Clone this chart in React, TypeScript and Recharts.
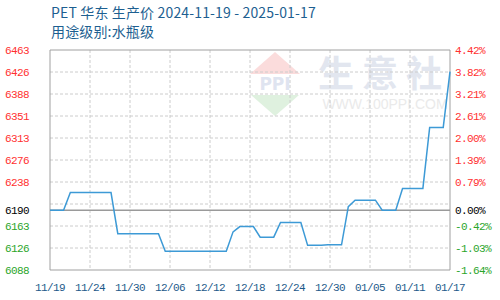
import { LineChart, Line, XAxis, YAxis, CartesianGrid, ReferenceLine, ReferenceArea } from "recharts";

// daily prices, 2024-11-19 .. 2025-01-17 (60 days)
const prices = [
  6190, 6190, 6190, 6220, 6220, 6220, 6220, 6220, 6220, 6220,
  6150, 6150, 6150, 6150, 6150, 6150, 6150, 6120, 6120, 6120,
  6120, 6120, 6120, 6120, 6120, 6120, 6120, 6153, 6162, 6162,
  6162, 6144, 6144, 6144, 6169, 6169, 6169, 6169, 6130, 6130,
  6130, 6131, 6131, 6131, 6196, 6207, 6207, 6207, 6207, 6190,
  6190, 6190, 6227, 6227, 6227, 6227, 6331, 6331, 6331, 6426,
];

const basePrice = 6190;
const xLabels = ["11/19", "11/24", "11/30", "12/06", "12/12", "12/18", "12/24", "12/30", "01/05", "01/11", "01/17"];
const yTicks = [6088, 6125.5, 6163, 6190, 6238, 6275.5, 6313, 6350.5, 6388, 6425.5, 6463];
const yLabels = ["6088", "6126", "6163", "6190", "6238", "6276", "6313", "6351", "6388", "6426", "6463"];
const pctLabels = ["-1.64%", "-1.03%", "-0.42%", "0.00%", "0.79%", "1.39%", "2.00%", "2.61%", "3.21%", "3.82%", "4.42%"];
const gridValues = [6125.5, 6163, 6200.5, 6238, 6275.5, 6313, 6350.5, 6388, 6425.5];

const data = prices.map((price, day) => ({ day, price }));
const lastDay = prices.length - 1;
const xTicks = xLabels.map((_, i) => (i * lastDay) / (xLabels.length - 1));

const tickFont = "'Liberation Mono', 'DejaVu Sans Mono', monospace";

const colorFor = (i: number) => {
  const v = yTicks[i];
  if (v === basePrice) return "#000000";
  return v > basePrice ? "#ff3030" : "#2aa52a";
};

// price on the left, change vs. base on the right
const PriceTick = (props: any) => {
  const { y, index } = props;
  return (
    <g>
      <text x={5} y={y} dy={4} textAnchor="start" fontFamily={tickFont} fontSize={11} letterSpacing={-0.6} fill={colorFor(index)}>
        {yLabels[index]}
      </text>
      <text x={455} y={y} dy={4} textAnchor="start" fontFamily={tickFont} fontSize={11} letterSpacing={-0.6} fill={colorFor(index)}>
        {pctLabels[index]}
      </text>
    </g>
  );
};

const BottomTick = (props: any) => {
  const { x, index } = props;
  return (
    <text x={x} y={287} dy={4} textAnchor="middle" fontFamily={tickFont} fontSize={11} letterSpacing={-0.6} fill="#1d5a8a">
      {xLabels[index]}
    </text>
  );
};

function Watermark() {
  return (
    <svg width={500} height={300} style={{ position: "absolute", left: 0, top: 0 }}>
      <polygon points="275,52 250,74 300,74" fill="#fbdcdc" />
      <polygon points="251,95 299,95 275,116" fill="#dff1df" />
      <text x={275} y={90} textAnchor="middle" fontFamily="'DejaVu Sans', sans-serif" fontWeight="bold" fontSize={17} fill="#dfe4f0">
        PPI
      </text>
      <text x={384} y={87} textAnchor="middle" fontFamily="'Noto Sans CJK SC'" fontWeight="bold" fontSize={36} letterSpacing={8} fill="#e2e6ef">
        生意社
      </text>
      <text x={385} y={109} textAnchor="middle" fontFamily="'Liberation Sans', sans-serif" fontSize={14} fill="#eaeaea">
        WWW.100PPI.COM
      </text>
    </svg>
  );
}

export default function App() {
  return (
    <div style={{ position: "relative", width: 500, height: 300, background: "#fff" }}>
      <style>{"body{margin:0}"}</style>
      <Watermark />
      <div
        style={{
          position: "absolute",
          left: 51,
          top: 3,
          fontFamily: "'Noto Sans CJK SC', sans-serif",
          fontSize: 14,
          color: "#1d5f91",
          lineHeight: "19px",
          whiteSpace: "nowrap",
          letterSpacing: 0.15,
        }}
      >
        <div>PET 华东 生产价 2024-11-19 - 2025-01-17</div>
        <div>用途级别:水瓶级</div>
      </div>
      <div style={{ position: "absolute", left: 0, top: 0 }}>
        <LineChart width={500} height={300} data={data} margin={{ top: 50, right: 50, bottom: 0, left: 0 }}>
          <CartesianGrid
            stroke="#cccccc"
            strokeDasharray="3 2"
            horizontalValues={gridValues}
            verticalValues={xTicks.slice(1, -1)}
          />
          <XAxis
            dataKey="day"
            type="number"
            domain={[0, lastDay]}
            ticks={xTicks}
            tick={<BottomTick />}
            tickLine={false}
            axisLine={false}
            height={30}
            interval={0}
          />
          <YAxis
            type="number"
            domain={[6088, 6463]}
            ticks={yTicks}
            tick={<PriceTick />}
            tickLine={false}
            axisLine={false}
            width={50}
            interval={0}
          />
          <ReferenceArea x1={0} x2={lastDay} y1={6088} y2={6463} fill="none" stroke="#a0a0a0" strokeWidth={1} />
          <ReferenceLine y={basePrice} stroke="#9a9a9a" strokeWidth={1.5} />
          <Line
            type="linear"
            dataKey="price"
            stroke="#3d9ad6"
            strokeWidth={1.5}
            dot={false}
            isAnimationActive={false}
          />
        </LineChart>
      </div>
    </div>
  );
}
